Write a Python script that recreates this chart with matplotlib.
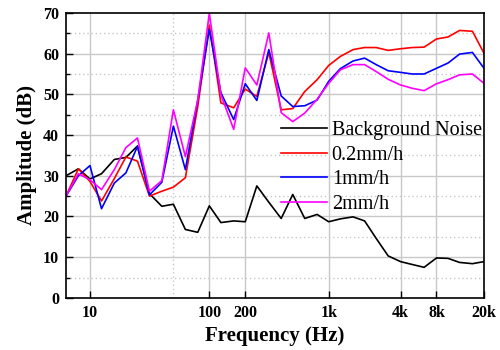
import matplotlib
matplotlib.use("Agg")
import matplotlib.pyplot as plt
from matplotlib.ticker import FixedLocator, FixedFormatter, MultipleLocator

freqs = [6.3, 8, 10, 12.5, 16, 20, 25, 31.5, 40, 50, 63, 80, 100, 125, 160, 200,
         250, 315, 400, 500, 630, 800, 1000, 1250, 1600, 2000, 2500, 3150, 4000,
         5000, 6300, 8000, 10000, 12500, 16000, 20000]

background = [30.0, 31.7, 29.2, 30.5, 34.0, 34.5, 37.3, 25.6, 22.5, 23.0, 16.8, 16.1,
              22.6, 18.5, 18.9, 18.7, 27.5, 23.5, 19.5, 25.4, 19.5, 20.5, 18.7, 19.4,
              19.9, 18.9, 14.6, 10.3, 8.9, 8.2, 7.5, 9.8, 9.7, 8.7, 8.4, 8.9]
rate_02 = [25.0, 31.7, 28.6, 23.8, 29.3, 34.6, 33.6, 25.0, 26.2, 27.2, 29.5, 47.0,
           67.0, 47.9, 46.7, 51.3, 49.5, 60.3, 46.2, 46.5, 50.7, 53.6, 57.1, 59.3,
           61.0, 61.5, 61.5, 60.8, 61.2, 61.5, 61.6, 63.6, 64.1, 65.7, 65.5, 60.1]
rate_1 = [25.0, 30.0, 32.5, 21.9, 28.2, 30.7, 37.2, 25.3, 28.4, 42.2, 31.5, 48.6,
          66.0, 50.4, 43.8, 52.6, 48.5, 61.0, 49.6, 47.0, 47.2, 48.6, 53.2, 56.3,
          58.2, 58.9, 57.3, 55.8, 55.4, 55.0, 55.0, 56.4, 57.7, 59.9, 60.3, 56.4]
rate_2 = [25.0, 30.5, 29.0, 26.6, 31.5, 36.9, 39.3, 26.2, 28.8, 46.2, 34.7, 48.6,
          69.9, 49.9, 41.4, 56.5, 52.3, 65.1, 45.5, 43.3, 45.4, 48.8, 52.7, 56.0,
          57.3, 57.3, 55.6, 53.7, 52.3, 51.5, 50.9, 52.6, 53.6, 54.8, 55.0, 52.7]

series_labels = ["Background Noise", "0.2mm/h", "1mm/h", "2mm/h"]
xtick_vals = [10, 100, 200, 1000, 4000, 8000, 20000]
xtick_labels = ["10", "100", "200", "1k", "4k", "8k", "20k"]

plt.rcParams['font.family'] = ['Liberation Serif', 'DejaVu Serif']

fig = plt.figure(figsize=(5, 3.5), dpi=100)
ax = fig.add_axes([0.132, 0.149, 0.836, 0.814])

colors = ["black", "#ff0000", "#0000ff", "#ff00ff"]
for ys, c, lab in zip([background, rate_02, rate_1, rate_2], colors, series_labels):
    ax.plot(freqs, ys, color=c, lw=1.2, label=lab)

ax.set_xscale('log')
ax.set_xlim(6.3, 20000)
ax.set_ylim(0, 70)

ax.xaxis.set_major_locator(FixedLocator(xtick_vals))
ax.xaxis.set_major_formatter(FixedFormatter(xtick_labels))
ax.xaxis.set_minor_locator(FixedLocator([]))
ax.yaxis.set_major_locator(MultipleLocator(10))
ax.yaxis.set_minor_locator(MultipleLocator(5))

# grid
for x in [10, 100, 200, 1000, 4000, 8000]:
    ax.axvline(x, color='#c8c8c8', lw=1.0, zorder=0)
ax.axvline(50, color='#c8c8c8', lw=1.0, ls=(0, (1, 2)), zorder=0)
for y in range(10, 70, 10):
    ax.axhline(y, color='#c8c8c8', lw=1.0, zorder=0)
for y in range(5, 70, 10):
    ax.axhline(y, color='#c8c8c8', lw=1.0, ls=(0, (1, 2)), zorder=0)

ax.tick_params(axis='both', which='major', direction='in', length=5, width=1,
               labelsize=11.5, pad=5)
ax.tick_params(axis='y', which='minor', direction='in', length=3, width=1)
for lbl in ax.get_xticklabels() + ax.get_yticklabels():
    lbl.set_fontweight('bold')
for sp in ax.spines.values():
    sp.set_linewidth(1.2)

ax.set_xlabel("Frequency (Hz)", fontsize=15, fontweight='bold', labelpad=4)
ax.set_ylabel("Amplitude (dB)", fontsize=15, fontweight='bold', labelpad=4)

leg = ax.legend(loc='upper left', bbox_to_anchor=(0.496, 0.649), frameon=False,
                fontsize=14.5, handlelength=2.25, handletextpad=0.25,
                labelspacing=0.27, borderaxespad=0)

fig.savefig("out.png", dpi=100, facecolor='white')
